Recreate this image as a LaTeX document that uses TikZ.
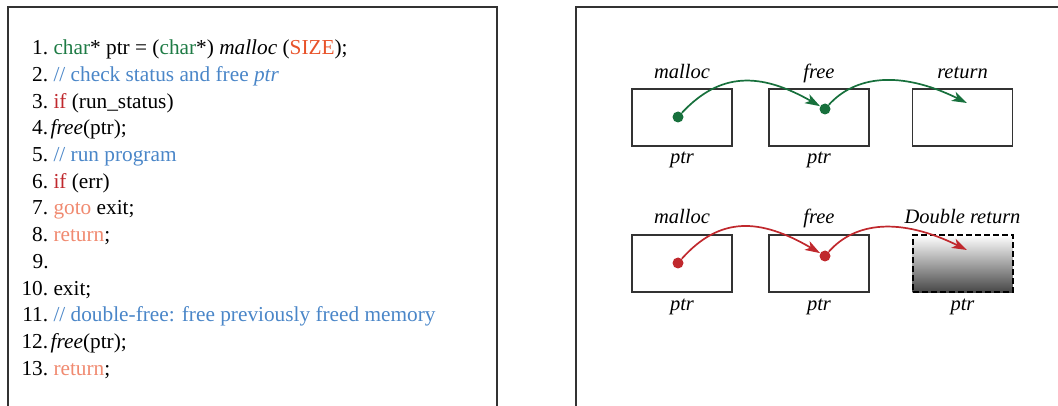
\documentclass[tikz,border=0pt]{standalone}
\usepackage{fontspec}
\setmainfont{Liberation Serif}
\usetikzlibrary{arrows.meta}

\definecolor{codegreen}{HTML}{1E7B45}
\definecolor{sizeorange}{HTML}{E8532A}
\definecolor{cmtblue}{HTML}{4A86C8}
\definecolor{kwred}{HTML}{C0282D}
\definecolor{kwsalmon}{HTML}{F08A70}
\definecolor{arrowgreen}{HTML}{17703C}
\definecolor{arrowred}{HTML}{C0282D}
\definecolor{framegray}{HTML}{333333}

\tikzset{
  codeline/.style={anchor=base west, inner sep=0pt, font=\fontsize{21.3}{25}\selectfont},
  cell/.style={draw=framegray, line width=1.2pt, minimum width=100pt, minimum height=57pt, inner sep=0pt},
  lbl/.style={anchor=base, inner sep=0pt, font=\fontsize{20.5}{24}\selectfont\itshape},
  dot/.style={circle, inner sep=0pt, minimum size=11pt},
  link/.style={line width=1.7pt, -{Stealth[length=15pt,width=10pt,inset=4pt]}},
}

\begin{document}
\begin{tikzpicture}[x=1pt,y=1pt]  % ------ double free : code et schema -------
    \useasboundingbox (0,0) rectangle (1058,-406);
    \clip (0,0) rectangle (1058,-406);

    % cadres
    \draw[framegray, line width=1.5pt] (8,-430) -- (8,-7) -- (497,-7) -- (497,-430);
    \draw[framegray, line width=1.5pt] (576,-430) -- (576,-7) -- (1080,-7);

    % code
    \node[codeline] (c1)  at (48,-55)    {\llap{1.}\ \textcolor{codegreen}{char}* ptr = (\textcolor{codegreen}{char}*) \textit{malloc} (\textcolor{sizeorange}{SIZE});};
    \node[codeline] (c2)  at (48,-81.6)  {\llap{2.}\ \textcolor{cmtblue}{// check status and free \textit{ptr}}};
    \node[codeline] (c3)  at (48,-108.3) {\llap{3.}\ \textcolor{kwred}{if} (run\_status)};
    \node[codeline] (c4)  at (48,-135)   {\llap{4.}\hspace{2.5pt}\textit{free}(ptr);};
    \node[codeline] (c5)  at (48,-161.6) {\llap{5.}\ \textcolor{cmtblue}{// run program}};
    \node[codeline] (c6)  at (48,-188.3) {\llap{6.}\ \textcolor{kwred}{if} (err)};
    \node[codeline] (c7)  at (48,-215)   {\llap{7.}\ \textcolor{kwsalmon}{goto} exit;};
    \node[codeline] (c8)  at (48,-241.6) {\llap{8.}\ \textcolor{kwsalmon}{return};};
    \node[codeline] (c9)  at (48,-268.3) {\llap{9.}\ };
    \node[codeline] (c10) at (48,-295)   {\llap{10.}\ exit;};
    \node[codeline] (c11) at (48,-321.6) {\llap{11.}\ \textcolor{cmtblue}{// double-free: free previously freed memory}};
    \node[codeline] (c12) at (48,-348.3) {\llap{12.}\hspace{2.5pt}\textit{free}(ptr);};
    \node[codeline] (c13) at (48,-375)   {\llap{13.}\ \textcolor{kwsalmon}{return};};

    % premiere ligne : malloc -> free -> return
    \node[cell] (m1) at (682,-117.5) {};
    \node[cell] (f1) at (819,-117.5) {};
    \node[cell] (r1) at (962.5,-117.5) {};
    \node[lbl] (m1t) at (682,-79) {malloc};
    \node[lbl] (f1t) at (819,-79) {free};
    \node[lbl] (r1t) at (962.5,-79) {return};
    \node[lbl] (m1b) at (682,-164) {ptr};
    \node[lbl] (f1b) at (819,-164) {ptr};
    \node[dot, fill=arrowgreen] (p1) at (678,-117) {};
    \node[dot, fill=arrowgreen] (p2) at (825,-109) {};
    \coordinate (e1) at (967,-103);
    \draw[link, arrowgreen] (p1) .. controls (720,-72) and (760,-72) .. (p2);
    \draw[link, arrowgreen] (p2) .. controls (855,-76) and (900,-70) .. (e1);

    % deuxieme ligne : malloc -> free -> double return
    \node[cell] (m2) at (682,-263.5) {};
    \node[cell] (f2) at (819,-263.5) {};
    \node[cell, draw=black, line width=2pt, dash pattern=on 6pt off 3pt,
          top color=white, bottom color=black!72] (r2) at (962.5,-263.5) {};
    \node[lbl] (m2t) at (682,-224) {malloc};
    \node[lbl] (f2t) at (819,-224) {free};
    \node[lbl] (r2t) at (962.5,-224) {Double return};
    \node[lbl] (m2b) at (682,-310) {ptr};
    \node[lbl] (f2b) at (819,-310) {ptr};
    \node[lbl] (r2b) at (962.5,-310) {ptr};
    \node[dot, fill=arrowred] (q1) at (678,-263) {};
    \node[dot, fill=arrowred] (q2) at (825,-256) {};
    \coordinate (e2) at (967,-250);
    \draw[link, arrowred] (q1) .. controls (720,-216) and (760,-218) .. (q2);
    \draw[link, arrowred] (q2) .. controls (855,-222) and (900,-217) .. (e2);
\end{tikzpicture}
\end{document}
